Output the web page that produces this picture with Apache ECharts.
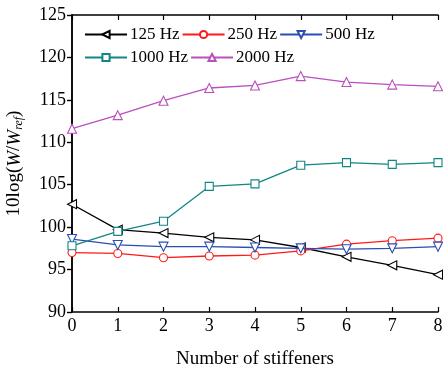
<!DOCTYPE html>
<html><head><meta charset="utf-8">
<script src="https://cdn.jsdelivr.net/npm/echarts@6/dist/echarts.min.js"></script>
<style>html,body{margin:0;padding:0;background:#fff}#c{width:443px;height:371px}</style>
</head><body><div id="c"></div>
<script>
const xValues = [0, 1, 2, 3, 4, 5, 6, 7, 8];
const seriesNames = ['125 Hz', '250 Hz', '500 Hz', '1000 Hz', '2000 Hz'];
const s125 = [102.7, 99.7, 99.3, 98.8, 98.5, 97.6, 96.5, 95.5, 94.4];
const s250 = [97.0, 96.9, 96.4, 96.6, 96.7, 97.2, 98.0, 98.4, 98.7];
const s500 = [98.6, 97.9, 97.7, 97.7, 97.6, 97.5, 97.4, 97.5, 97.7];
const s1000 = [97.8, 99.5, 100.7, 104.8, 105.1, 107.3, 107.6, 107.4, 107.6];
const s2000 = [111.6, 113.2, 114.9, 116.4, 116.7, 117.8, 117.1, 116.8, 116.6];
const yTicks = [90, 95, 100, 105, 110, 115, 120, 125];

const FONT = 'Liberation Serif';
const colors = ['#000000', '#ff1a1a', '#2b4db5', '#138585', '#bb4fbb'];
const symbols = [
  'path://M0,5 L10,0 L10,10 Z',
  'circle',
  'path://M0,0 L10,0 L5,9 Z',
  'rect',
  'triangle'
];
const sizes = [9, 8, 9, 8, 9];
const allData = [s125, s250, s500, s1000, s2000];

const series = allData.map((d, i) => ({
  name: seriesNames[i],
  type: 'line',
  data: d.map((v, k) => [xValues[k], v]),
  symbol: symbols[i],
  symbolSize: sizes[i],
  showAllSymbol: true,
  lineStyle: { color: colors[i], width: 1.3 },
  itemStyle: { color: '#fff', borderColor: colors[i], borderWidth: 1.1 },
  emphasis: { disabled: true },
  z: 3 + i
}));

const legendCommon = {
  itemWidth: 42, itemHeight: 9, itemGap: 2, padding: 0,
  textStyle: { fontFamily: FONT, fontSize: 17, color: '#000', padding: [0, 0, 0, -2] }
};

const chart = echarts.init(document.getElementById('c'), null, { renderer: 'canvas' });
chart.setOption({
  animation: false,
  backgroundColor: '#fff',
  grid: { left: 72, right: 5, top: 15, bottom: 59, containLabel: false, outerBoundsMode: 'none' },
  legend: [
    Object.assign({}, legendCommon, { data: seriesNames.slice(0, 3), left: 84, top: 26 }),
    Object.assign({}, legendCommon, { data: seriesNames.slice(3), left: 84, top: 49 })
  ],
  xAxis: [{
    type: 'value', min: 0, max: 8, interval: 1,
    name: 'Number of stiffeners', nameLocation: 'middle', nameGap: 38,
    nameTextStyle: { fontFamily: FONT, fontSize: 19, color: '#000' },
    axisLine: { lineStyle: { color: '#000', width: 1.5 } },
    axisTick: { inside: true, length: 5, lineStyle: { color: '#000', width: 1.2 } },
    axisLabel: { fontFamily: FONT, fontSize: 18, color: '#000', margin: 5 },
    splitLine: { show: false }
  }, {
    type: 'value', min: 0, max: 8, interval: 1, position: 'top',
    axisLine: { show: true, lineStyle: { color: '#000', width: 1.5 } },
    axisTick: { show: true, inside: true, length: 5, lineStyle: { color: '#000', width: 1.2 } },
    axisLabel: { show: false }, splitLine: { show: false }
  }],
  yAxis: [{
    type: 'value', min: yTicks[0], max: yTicks[yTicks.length - 1], interval: 5,
    name: '{n|10log(}{i|W}{n|/}{i|W}{s|ref}{n|)}',
    nameLocation: 'middle', nameGap: 47, nameRotate: 90,
    nameTextStyle: {
      fontFamily: FONT, fontSize: 19, color: '#000',
      rich: {
        n: { fontFamily: FONT, fontSize: 19, color: '#000' },
        i: { fontFamily: FONT, fontSize: 19, fontStyle: 'italic', color: '#000' },
        s: { fontFamily: FONT, fontSize: 12, fontStyle: 'italic', color: '#000', verticalAlign: 'bottom', padding: [9, 0, 0, 0] }
      }
    },
    axisLine: { show: true, lineStyle: { color: '#000', width: 1.5 } },
    axisTick: { show: true, inside: false, length: 5, lineStyle: { color: '#000', width: 1.2 } },
    axisLabel: { fontFamily: FONT, fontSize: 18, color: '#000', margin: 6 },
    splitLine: { show: false }
  }, {
    type: 'value', min: yTicks[0], max: yTicks[yTicks.length - 1], interval: 5, position: 'right',
    axisLine: { show: true, lineStyle: { color: '#000', width: 1.5 } },
    axisTick: { show: true, inside: true, length: 5, lineStyle: { color: '#000', width: 1.2 } },
    axisLabel: { show: false }, splitLine: { show: false }
  }],
  series: series
});
</script></body></html>
